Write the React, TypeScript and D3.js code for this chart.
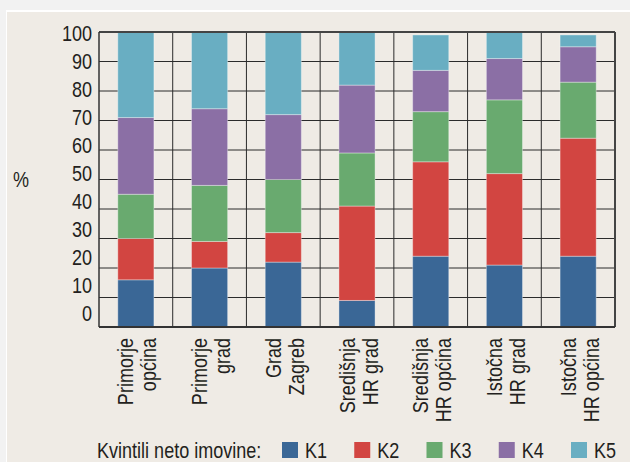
import React from "react";
import { scaleBand, scaleLinear, stack } from "d3";

const categories = [
  "Primorje općina",
  "Primorje grad",
  "Grad Zagreb",
  "Središnja HR grad",
  "Središnja HR općina",
  "Istočna HR grad",
  "Istočna HR općina",
];
const categoryLines = [
  ["Primorje", "općina"],
  ["Primorje", "grad"],
  ["Grad", "Zagreb"],
  ["Središnja", "HR grad"],
  ["Središnja", "HR općina"],
  ["Istočna", "HR grad"],
  ["Istočna", "HR općina"],
];

const seriesKeys = ["K1", "K2", "K3", "K4", "K5"];
const seriesColors = ["#3a6796", "#d24541", "#69aa6f", "#8b6fa5", "#69aec2"];

const k1 = [16, 20, 22, 9, 24, 21, 24];
const k2 = [14, 9, 10, 32, 32, 31, 40];
const k3 = [15, 19, 18, 18, 17, 25, 19];
const k4 = [26, 26, 22, 23, 14, 14, 12];
const k5 = [29, 26, 28, 18, 12, 9, 4];

const yTicks = [0, 10, 20, 30, 40, 50, 60, 70, 80, 90, 100];

const FONT = "'Liberation Sans', Arial, sans-serif";
const INK = "#231f20";
const NARROW = 0.82; // no narrow face installed, so squeeze Liberation Sans
const FS = 22;

// text squeezed along its own direction, like Arial Narrow
function NText({
  x,
  y,
  rotate = 0,
  anchor = "start",
  size = FS,
  dy,
  children,
}: {
  x: number;
  y: number;
  rotate?: number;
  anchor?: string;
  size?: number;
  dy?: string;
  children: React.ReactNode;
}) {
  return (
    <g transform={`translate(${x},${y}) rotate(${rotate}) scale(${NARROW},1)`}>
      <text textAnchor={anchor as any} fontSize={size} dy={dy} fill={INK}>
        {children}
      </text>
    </g>
  );
}

export default function App() {
  const width = 630;
  const height = 462;
  const plot = { left: 99, right: 615, top: 32, bottom: 327 };

  const rows = categories.map((c, i) => ({
    cat: c,
    K1: k1[i],
    K2: k2[i],
    K3: k3[i],
    K4: k4[i],
    K5: k5[i],
  }));
  const stacked = stack<any>().keys(seriesKeys)(rows);

  const x = scaleBand().domain(categories).range([plot.left, plot.right]).padding(0);
  const y = scaleLinear().domain([0, 100]).range([plot.bottom, plot.top]);
  // tick labels in the original sit on a slightly tighter ladder than the grid
  const yLabel = scaleLinear().domain([0, 100]).range([313, 33]);
  const barW = x.bandwidth() * 0.49;

  const legendX = scaleLinear().domain([0, 4]).range([282, 571]);

  return (
    <svg
      width={width}
      height={height}
      style={{ position: "absolute", left: 0, top: 0, fontFamily: FONT }}
    >
      <rect width={width} height={height} fill="#f2f2f2" />
      <rect x={6} y={10} width={width - 6} height={height - 10} fill="#ffffff" />
      <rect x={7} y={12} width={width - 7} height={height - 12} fill="#efebe5" />

      {/* grid */}
      {yTicks.map((t) => (
        <line
          key={"h" + t}
          x1={plot.left}
          x2={plot.right}
          y1={y(t)}
          y2={y(t)}
          stroke="#2b2b2b"
          strokeWidth={1}
        />
      ))}
      {categories.slice(1).map((c) => (
        <line
          key={"v" + c}
          x1={x(c)!}
          x2={x(c)!}
          y1={plot.top}
          y2={plot.bottom}
          stroke="#2b2b2b"
          strokeWidth={1}
        />
      ))}

      {/* bars */}
      {stacked.map((s, si) =>
        s.map((d, i) => (
          <rect
            key={si + "-" + i}
            x={x(categories[i])! + (x.bandwidth() - barW) / 2}
            y={y(d[1])}
            width={barW}
            height={y(d[0]) - y(d[1])}
            fill={seriesColors[si]}
            stroke="#ffffff"
            strokeOpacity={0.35}
            strokeWidth={1}
          />
        ))
      )}

      {/* frame */}
      <line x1={plot.left} x2={plot.right} y1={plot.top} y2={plot.top} stroke="#444" strokeWidth={2} />
      <line x1={plot.right} x2={plot.right} y1={plot.top} y2={plot.bottom} stroke="#444" strokeWidth={2} />
      <line x1={plot.left} x2={plot.right} y1={plot.bottom} y2={plot.bottom} stroke="#333" strokeWidth={2} />
      <line x1={plot.left} x2={plot.left} y1={plot.top} y2={plot.bottom} stroke="#333" strokeWidth={1.5} />

      {/* y tick labels */}
      {yTicks.map((t) => (
        <NText key={"yl" + t} x={92} y={yLabel(t)} dy="0.36em" anchor="end">
          {t}
        </NText>
      ))}
      <NText x={13} y={187}>
        %
      </NText>

      {/* category labels */}
      {categories.map((c, i) => {
        const cx = x(c)! + x.bandwidth() / 2;
        return (
          <g key={"cl" + c}>
            <NText x={cx - 2.5} y={338} rotate={-90} anchor="end">
              {categoryLines[i][0]}
            </NText>
            <NText x={cx + 20.5} y={338} rotate={-90} anchor="end">
              {categoryLines[i][1]}
            </NText>
          </g>
        );
      })}

      {/* legend */}
      <NText x={97} y={458}>
        Kvintili neto imovine:
      </NText>
      {seriesKeys.map((k, i) => (
        <g key={"lg" + k}>
          <rect x={legendX(i)} y={442} width={16} height={16} fill={seriesColors[i]} />
          <NText x={legendX(i) + 23} y={458}>
            {k}
          </NText>
        </g>
      ))}
    </svg>
  );
}
